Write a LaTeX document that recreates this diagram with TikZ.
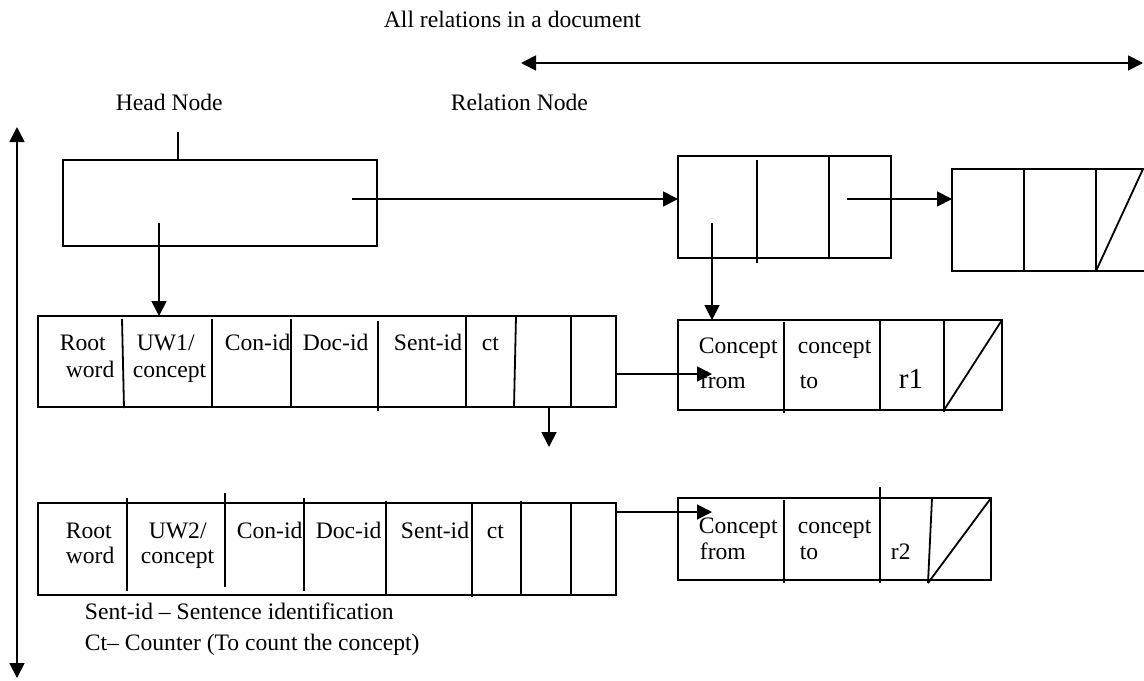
\documentclass[tikz,border=0pt]{standalone}
\usepackage{fontspec}
\setmainfont{Liberation Serif}
\usetikzlibrary{arrows.meta}
\begin{document}
\begin{tikzpicture}[x=0.5pt,y=-0.5pt,line width=0.9pt,
  box/.style={draw,line width=0.9pt,inner sep=0,outer sep=0,anchor=north west},
  txt/.style={inner sep=0,anchor=base west,font=\fontsize{11.8}{13}\selectfont},
  bigtxt/.style={inner sep=0,anchor=base west,font=\fontsize{14.5}{16}\selectfont},
  arr/.style={-{Triangle[length=7.5pt,width=7.5pt]}},
  darr/.style={{Triangle[length=7.5pt,width=7.5pt]}-{Triangle[length=7.5pt,width=7.5pt]}}]
\useasboundingbox (0,0) rectangle (1144,680);

% titles
\node[txt] (title) at (383,27) {All relations in a document};
\node[txt] (headlbl) at (115,110) {Head Node};
\node[txt] (rellbl) at (450,110) {Relation Node};

% long arrows
\coordinate (ha1) at (521,63);
\coordinate (ha2) at (1143,63);
\draw[darr] (ha1) -- (ha2);
\coordinate (va1) at (17,127);
\coordinate (va2) at (17,678);
\draw[darr] (va1) -- (va2);

% head node
\node[box,minimum width=157pt,minimum height=43pt] (head) at (63,160) {};
\coordinate (htick) at (178,132);
\draw (htick) -- (head.north -| htick);

% relation node 1
\node[box,minimum width=106.5pt,minimum height=51pt] (rel1) at (678,156) {};
\draw (757,160) -- (757,263);
\draw (829,156) -- (829,258);

% relation node 2 (cut at right edge)
\coordinate (r2tl) at (952,169);
\coordinate (r2bl) at (952,271);
\draw (1144,169) -- (r2tl) -- (r2bl) -- (1144,271);
\draw (1024,169) -- (1024,271);
\draw (1096,169) -- (1096,271);
\draw (1096,271) -- (1143,169);

% row 1
\node[box,minimum width=289pt,minimum height=45.5pt] (row1) at (38,316) {};
\draw (122,319) -- (124,408);
\draw (212,319) -- (212,408);
\draw (291,319) -- (291,408);
\draw (378,321) -- (378,411);
\draw (466,317) -- (466,408);
\draw (516,316) -- (514,407);
\draw (571,316) -- (571,407);
\node[txt] (r1a) at (59,350) {Root};
\node[txt] (r1b) at (65,377) {word};
\node[txt] (r1c) at (136,350) {UW1/};
\node[txt] (r1d) at (132,377) {concept};
\node[txt] (r1e) at (224,350) {Con-id};
\node[txt] (r1f) at (302,350) {Doc-id};
\node[txt] (r1g) at (393,350) {Sent-id};
\node[txt] (r1h) at (481,350) {ct};

% concept box 1
\node[box,minimum width=162pt,minimum height=45pt] (con1) at (678,320) {};
\draw (784,322) -- (784,413);
\draw (880,320) -- (880,410);
\draw (944,320) -- (944,412);
\draw (944,410) -- (1002,320);
\node[txt] (c1a) at (698,353) {Concept};
\node[txt] (c1b) at (699,388) {from};
\node[txt] (c1c) at (797,353) {concept};
\node[txt] (c1d) at (799,388) {to};
\node[bigtxt] (c1e) at (898,388) {r1};

% row 2
\node[box,minimum width=289pt,minimum height=46pt] (row2) at (38,503) {};
\draw (127,498) -- (127,591);
\draw (225,493) -- (225,587);
\draw (304,498) -- (304,591);
\draw (386,501) -- (386,595);
\draw (472,503) -- (472,597);
\draw (521,501) -- (521,595);
\draw (571,503) -- (571,595);
\node[txt] (r2a) at (65,538) {Root};
\node[txt] (r2b) at (65,563) {word};
\node[txt] (r2c) at (148,538) {UW2/};
\node[txt] (r2d) at (140,563) {concept};
\node[txt] (r2e) at (236,538) {Con-id};
\node[txt] (r2f) at (315,538) {Doc-id};
\node[txt] (r2g) at (400,538) {Sent-id};
\node[txt] (r2h) at (486,538) {ct};

% concept box 2
\node[box,minimum width=156.5pt,minimum height=41pt] (con2) at (678,498) {};
\draw (784,500) -- (784,583);
\draw (880,487) -- (880,583);
\draw (932,498) -- (928,583);
\draw (928,583) -- (991,498);
\node[txt] (c2a) at (698,533) {Concept};
\node[txt] (c2b) at (699,559) {from};
\node[txt] (c2c) at (797,533) {concept};
\node[txt] (c2d) at (799,559) {to};
\node[txt] (c2e) at (890,559) {r2};

% legend
\node[txt] (leg1) at (84,619) {Sent-id -- Sentence identification};
\node[txt] (leg2) at (84,650) {Ct-- Counter (To count the concept)};

% connectors
\coordinate (hs) at (352,199);
\draw[arr] (hs) -- (rel1.west |- hs);
\coordinate (hd) at (159,223);
\draw[arr] (hd) -- (row1.north -| hd);
\coordinate (rs) at (847,199);
\draw[arr] (rs) -- (r2tl |- rs);
\coordinate (rd) at (712,223);
\draw[arr] (rd) -- (con1.north -| rd);
\coordinate (row1a) at (616,374);
\coordinate (con1a) at (712,374);
\draw[arr] (row1a) -- (con1a);
\coordinate (dd) at (549,447);
\draw[arr] (row1.south -| dd) -- (dd);
\coordinate (row2a) at (616,512);
\coordinate (con2a) at (712,512);
\draw[arr] (row2a) -- (con2a);
\end{tikzpicture}
\end{document}
